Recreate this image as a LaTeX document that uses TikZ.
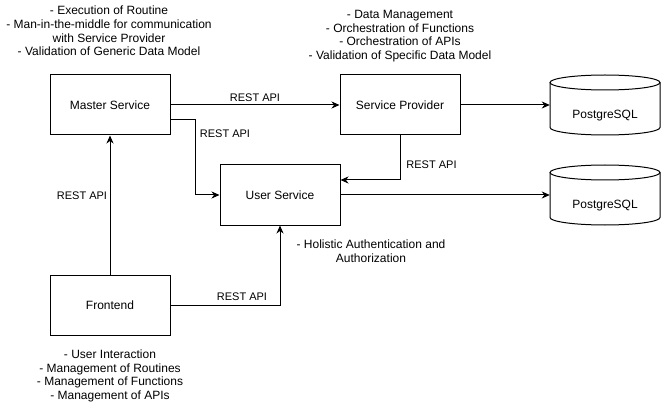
\documentclass[tikz,border=0pt]{standalone}
\usepackage{fontspec}
\setmainfont{Liberation Sans}
\usetikzlibrary{arrows.meta}
\tikzset{
  box/.style={draw, line width=1pt, minimum width=120pt, minimum height=60pt, inner sep=0pt, font=\fontsize{12}{14}\selectfont},
  note/.style={align=center, inner sep=0pt, font=\fontsize{12}{13.7}\selectfont},
  lab/.style={inner sep=0pt, font=\fontsize{11}{13}\selectfont},
  conn/.style={line width=1pt, -{Stealth[length=8pt,width=7pt,inset=2.5pt]}},
  cyl/.style={line width=1pt},
  cyltext/.style={inner sep=0pt, font=\fontsize{12}{14}\selectfont}
}
\begin{document}
\begin{tikzpicture}[x=1pt,y=-1pt]
\useasboundingbox (0,0) rectangle (661,406);

\node[box] (ms) at (110,105) {Master Service};
\node[box] (sp) at (400,105) {Service Provider};
\node[box] (us) at (280,195) {User Service};
\node[box] (fe) at (110,305) {Frontend};

% cylinders
\draw[cyl] (550,82.5) -- (550,127.5) arc[start angle=180, end angle=360, x radius=55, y radius=-7.5] -- (660,82.5);
\draw[cyl] (605,82.5) ellipse[x radius=55, y radius=7.5];
\node[minimum width=110pt, minimum height=60pt, inner sep=0pt] (pg1) at (605,105) {};
\node[cyltext] (pg1t) at (605,116) {PostgreSQL};

\draw[cyl] (550,172.5) -- (550,217.5) arc[start angle=180, end angle=360, x radius=55, y radius=-7.5] -- (660,172.5);
\draw[cyl] (605,172.5) ellipse[x radius=55, y radius=7.5];
\node[minimum width=110pt, minimum height=60pt, inner sep=0pt] (pg2) at (605,195) {};
\node[cyltext] (pg2t) at (605,206) {PostgreSQL};

% connectors
\draw[conn] (ms.east) -- (sp.west);
\draw[conn] ([yshift=-15pt]ms.east) -- ++(25,0) |- (us.west);
\draw[conn] (sp.south) |- ([yshift=15pt]us.east);
\draw[conn] (sp.east) -- (pg1.west);
\draw[conn] (us.east) -- (pg2.west);
\draw[conn] (fe.north) -- (ms.south);
\draw[conn] (fe.east) -| (us.south);

% labels
\node[lab] (l1) at (255,98) {REST API};
\node[lab] (l2) at (225,134) {REST API};
\node[lab] (l3) at (82,196) {REST API};
\node[lab] (l4) at (431.5,165) {REST API};
\node[lab] (l5) at (242,297) {REST API};

% annotations
\node[note] (n1) at (109,31) {- Execution of Routine\\- Man-in-the-middle for communication\\with Service Provider\\- Validation of Generic Data Model};
\node[note] (n2) at (400,36) {- Data Management\\- Orchestration of Functions\\- Orchestration of APIs\\- Validation of Specific Data Model};
\node[note] (n3) at (371,251) {- Holistic Authentication and\\Authorization};
\node[note] (n4) at (110,376) {- User Interaction\\- Management of Routines\\- Management of Functions\\- Management of APIs};
\end{tikzpicture}
\end{document}
